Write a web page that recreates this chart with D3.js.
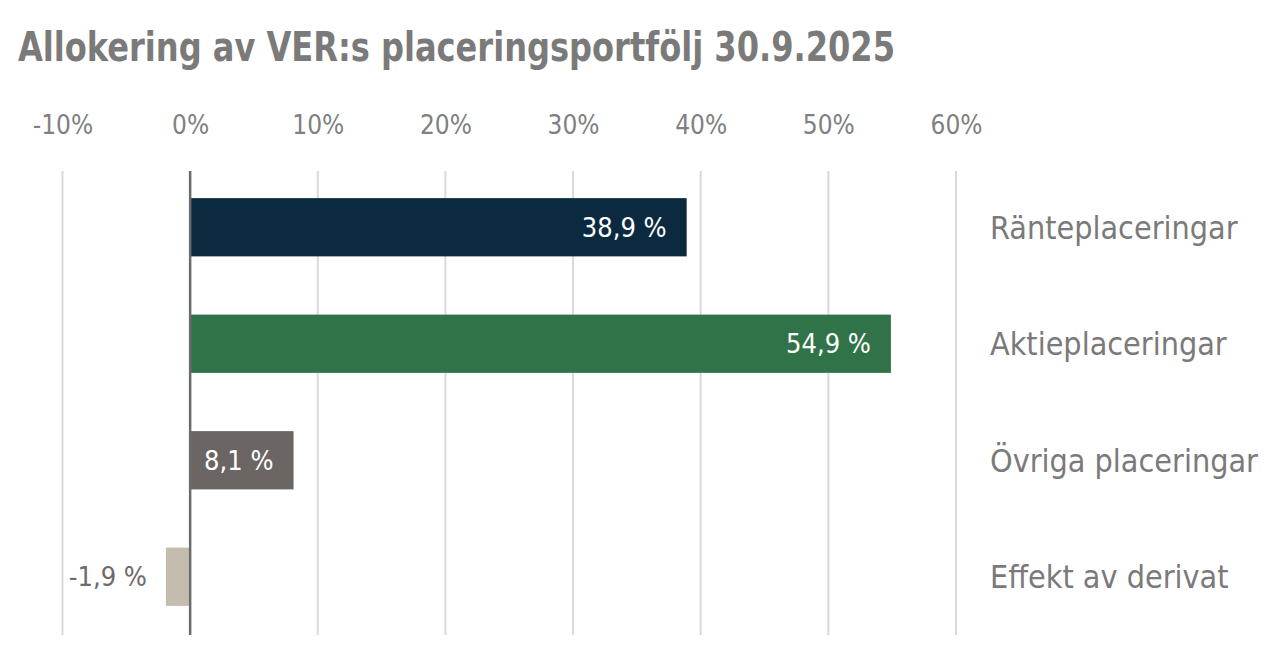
<!DOCTYPE html>
<html>
<head>
<meta charset="utf-8">
<script src="https://cdn.jsdelivr.net/npm/d3@7"></script>
<style>
  html, body { margin: 0; padding: 0; background: #ffffff; }
  svg { display: block; }
</style>
</head>
<body>
<svg id="chart" width="1288" height="672"></svg>
<script>
const titleText = "Allokering av VER:s placeringsportfölj 30.9.2025";
const categories = ["Ränteplaceringar", "Aktieplaceringar", "Övriga placeringar", "Effekt av derivat"];
const values = [38.9, 54.9, 8.1, -1.9];
const valueLabels = ["38,9 %", "54,9 %", "8,1 %", "-1,9 %"];
const barColors = ["#0b2a40", "#317349", "#6b6663", "#c5bcb0"];
const tickValues = [-10, 0, 10, 20, 30, 40, 50, 60];
const tickLabels = ["-10%", "0%", "10%", "20%", "30%", "40%", "50%", "60%"];

const svg = d3.select("#chart");
const font = "'DejaVu Sans Condensed', 'DejaVu Sans', sans-serif";

const x = d3.scaleLinear().domain([-10, 60]).range([62.5, 956]);
const y = d3.scaleBand().domain(categories).range([169, 635]).paddingInner(0.5).paddingOuter(0.25);

// title
svg.append("text")
  .attr("x", 18).attr("y", 61)
  .attr("font-family", font).attr("font-weight", "bold")
  .attr("font-size", 41).attr("fill", "#7a7a7a")
  .attr("textLength", 877).attr("lengthAdjust", "spacingAndGlyphs")
  .text(titleText);

// gridlines
svg.append("g").selectAll("line").data(tickValues.filter(d => d !== 0)).join("line")
  .attr("x1", d => x(d)).attr("x2", d => x(d))
  .attr("y1", 171).attr("y2", 635)
  .attr("stroke", "#d9d9d9").attr("stroke-width", 2);

// top axis
const axis = d3.axisTop(x).tickValues(tickValues).tickSize(0)
  .tickFormat((d, i) => tickLabels[i]);
const ax = svg.append("g").attr("transform", "translate(0,137)").call(axis);
ax.select(".domain").remove();
ax.selectAll("text")
  .attr("font-family", font).attr("font-size", 26).attr("fill", "#808080").attr("dy", 0);

// bars
svg.append("g").selectAll("rect").data(values).join("rect")
  .attr("x", d => x(Math.min(0, d)))
  .attr("width", d => Math.abs(x(d) - x(0)))
  .attr("y", (d, i) => y(categories[i]))
  .attr("height", y.bandwidth())
  .attr("fill", (d, i) => barColors[i]);

// zero line
svg.append("line")
  .attr("x1", x(0)).attr("x2", x(0)).attr("y1", 171).attr("y2", 635)
  .attr("stroke", "#6b6b6b").attr("stroke-width", 2.5);

// value labels
svg.append("g").selectAll("text").data(values).join("text")
  .attr("x", d => d >= 0 ? x(d) - 20 : x(d) - 19)
  .attr("y", (d, i) => y(categories[i]) + y.bandwidth() / 2)
  .attr("dy", "0.36em")
  .attr("text-anchor", "end")
  .attr("font-family", font).attr("font-size", 27)
  .attr("fill", d => d >= 0 ? "#ffffff" : "#6b6b6b")
  .text((d, i) => valueLabels[i]);

// category labels
svg.append("g").selectAll("text").data(categories).join("text")
  .attr("x", 990)
  .attr("y", d => y(d) + y.bandwidth() / 2)
  .attr("dy", "0.36em")
  .attr("font-family", font).attr("font-size", 32)
  .attr("fill", "#7a7a7a")
  .text(d => d);
</script>
</body>
</html>
